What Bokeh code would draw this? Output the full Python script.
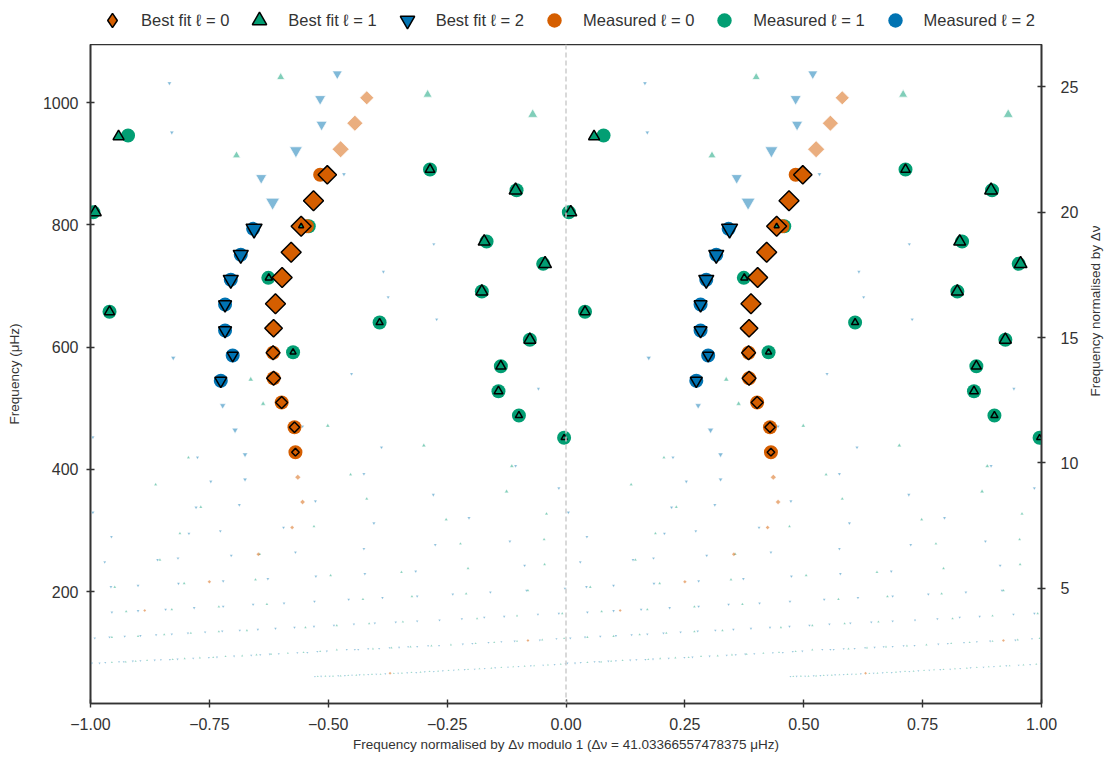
import numpy as np
from bokeh.plotting import figure
from bokeh.layouts import column, row
from bokeh.models import (ColumnDataSource, Range1d, LinearAxis, FixedTicker, Span, Label,
                          Legend, LegendItem, CustomJSTickFormatter)
from bokeh.embed import file_html
from bokeh.resources import INLINE

DNU = 41.03366557478375  # large frequency separation (muHz)

# ---- measured modes: position modulo dnu (in units of dnu) and frequency (muHz)
l0_obs_x = [0.483, 0.469, 0.455, 0.422, 0.403, 0.389, 0.385, 0.384, 0.385, 0.402, 0.429, 0.431]
l0_obs_nu = [882.0, 839.5, 797.9, 755.3, 713.9, 670.9, 630.9, 590.7, 549.1, 509.3, 468.9, 428.0]

l1_obs_x = [0.079, 0.714, 0.896, 0.006, 0.833, 0.952, 0.823, 0.374, 0.459, 0.040, 0.608,
            0.924, 0.426, 0.863, 0.858, 0.901, 0.996]
l1_obs_nu = [946.3, 890.7, 856.8, 820.8, 772.8, 736.3, 691.0, 713.4, 797.9, 657.8, 640.3,
             612.0, 591.7, 568.8, 527.8, 488.1, 451.6]

l2_obs_x = [0.342, 0.316, 0.295, 0.283, 0.283, 0.299, 0.274]
l2_obs_nu = [793.6, 751.1, 710.2, 669.7, 627.2, 586.3, 544.9]

# ---- best-fit model modes matched to an observed mode (relative amplitude)
l0_fit_x = [0.498, 0.469, 0.443, 0.422, 0.403, 0.389, 0.385, 0.384, 0.385, 0.402, 0.429, 0.431]
l0_fit_nu = [882.0, 839.5, 797.9, 755.3, 713.9, 670.9, 630.9, 590.7, 549.1, 509.3, 468.9, 428.0]
l0_fit_amp = [0.92, 1.0, 1.0, 1.0, 1.0, 1.0, 0.88, 0.70, 0.70, 0.60, 0.52, 0.38]

l1_fit_x = [0.059, 0.714, 0.894, 0.010, 0.828, 0.956, 0.823, 0.375, 0.443, 0.040, 0.608,
            0.924, 0.426, 0.863, 0.858, 0.901, 0.996]
l1_fit_nu = [944.7, 890.7, 856.8, 820.8, 772.8, 736.3, 691.0, 713.4, 797.9, 657.8, 640.3,
             612.0, 591.7, 568.8, 527.8, 488.1, 451.6]
l1_fit_amp = [0.69, 0.60, 0.80, 0.75, 0.75, 0.80, 0.75, 0.45, 0.32, 0.63, 0.45,
              0.75, 0.38, 0.63, 0.56, 0.45, 0.38]

l2_fit_x = [0.344, 0.316, 0.295, 0.283, 0.283, 0.299, 0.274]
l2_fit_nu = [793.6, 751.1, 710.2, 669.7, 627.2, 586.3, 544.9]
l2_fit_amp = [1.0, 0.94, 0.94, 0.81, 0.81, 0.69, 0.75]

# ---- best-fit model modes without an observed counterpart
l0_free_x = [0.581, 0.556, 0.526, 0.436, 0.446, 0.424, 0.353, 0.250, 0.114, 0.920, 0.630]
l0_free_nu = [1008.0, 966.5, 923.9, 387.1, 346.5, 304.8, 260.9, 215.9, 168.9, 119.8, 66.3]
l0_free_amp = [0.70, 0.80, 0.85, 0.28, 0.25, 0.20, 0.20, 0.18, 0.15, 0.15, 0.15]

l1_free_x = [0.400, 0.709, 0.930, 0.307, 0.337, 0.363, 0.499, 0.701, 0.206, 0.886, 0.547,
             0.137, 0.875, 0.581, 0.232, 0.748, 0.959, 0.188, 0.470, 0.778, 0.954,
             0.146, 0.356,
             0.051, 0.197, 0.347, 0.505, 0.654, 0.794, 0.955,
             0.075, 0.171, 0.270, 0.371, 0.573, 0.676, 0.790, 0.920,
             0.045, 0.100, 0.155, 0.211, 0.270, 0.329, 0.452, 0.518, 0.586, 0.657, 0.813,
             0.897, 0.992,
             0.045, 0.074, 0.095, 0.119, 0.173, 0.198, 0.230, 0.258, 0.284, 0.319, 0.349,
             0.380, 0.415, 0.448, 0.483, 0.518, 0.594, 0.633, 0.673, 0.717, 0.758, 0.810,
             0.849, 0.897, 0.950, 0.996,
             0.478, 0.494, 0.510, 0.526, 0.542, 0.559, 0.575, 0.592, 0.610, 0.638, 0.655,
             0.675, 0.694, 0.713, 0.731, 0.753, 0.774, 0.794, 0.818, 0.843, 0.864, 0.889,
             0.913, 0.933, 0.962, 0.989]
l1_free_nu = [1041.8, 1013.4, 980.7, 913.6, 547.0, 507.2, 471.2, 439.0, 419.3, 405.1, 391.5,
              375.1, 363.7, 351.7, 338.0, 317.8, 327.2, 294.9, 306.4, 278.1, 285.1,
              251.9, 261.1,
              207.3, 213.1, 219.2, 226.2, 231.6, 237.6, 244.2,
              167.3, 170.5, 175.0, 179.2, 187.4, 191.8, 196.2, 201.6,
              125.2, 126.8, 129.6, 131.8, 134.5, 136.2, 141.1, 144.4, 147.6, 150.4, 155.8,
              160.2, 164.0,
              83.8, 84.9, 85.9, 87.1, 88.7, 90.3, 91.5, 92.0, 93.6, 94.8, 96.4,
              97.4, 99.0, 100.2, 101.8, 104.6, 106.2, 107.9, 109.5, 111.1, 112.8, 114.9,
              116.5, 118.7, 121.0, 123.1,
              60.9, 61.4, 61.4, 62.0, 62.5, 63.0, 63.7, 64.2, 64.6, 65.8, 66.3,
              67.4, 67.9, 69.1, 69.6, 70.7, 71.9, 72.3, 73.5, 74.5, 75.6, 76.8,
              77.7, 78.4, 80.0, 81.0]
l1_free_amp = ([0.50, 0.56, 0.62, 0.50, 0.32, 0.30, 0.25, 0.25, 0.20, 0.25, 0.20,
                0.20, 0.25, 0.20, 0.20, 0.20, 0.20, 0.18, 0.18, 0.18, 0.18,
                0.18, 0.18]
               + [0.18] * 7 + [0.17] * 8 + [0.15] * 13 + [0.13] * 26 + [0.12] * 26)

l2_free_x = [0.166, 0.519, 0.483, 0.171, 0.486, 0.432, 0.359, 0.533, 0.383, 0.722, 0.616,
             0.626, 0.728, 0.174, 0.549, 0.942, 0.278, 0.446, 0.304, 0.005, 0.612, 0.225,
             0.325, 0.894, 0.575, 0.325, 0.253, 0.721, 0.985, 0.473, 0.313, 0.222, 0.005,
             0.796, 0.596, 0.044, 0.207, 0.273, 0.406, 0.575, 0.725, 0.882,
             0.030, 0.141, 0.184, 0.296, 0.431,
             0.043, 0.100, 0.185, 0.279, 0.373, 0.474, 0.577, 0.684, 0.913,
             0.045, 0.100, 0.158, 0.218, 0.279, 0.342, 0.407, 0.471, 0.543, 0.614, 0.687,
             0.762, 0.841, 0.917, 0.998,
             0.009, 0.040, 0.072, 0.105, 0.138, 0.171, 0.205, 0.241, 0.277, 0.314, 0.352,
             0.389, 0.429, 0.470, 0.512, 0.554, 0.598, 0.642, 0.687, 0.734, 0.781, 0.828,
             0.870, 0.941, 0.985,
             0.003, 0.019, 0.031, 0.060, 0.070, 0.089, 0.105, 0.135, 0.148, 0.167, 0.183,
             0.216, 0.249, 0.266, 0.302, 0.338, 0.357, 0.377, 0.396, 0.435, 0.456, 0.477,
             0.497, 0.539, 0.556, 0.563, 0.584, 0.607, 0.629, 0.649, 0.668, 0.687, 0.710,
             0.733, 0.783, 0.803, 0.837, 0.864, 0.892, 0.945, 0.980,
             0.472, 0.485, 0.503, 0.521, 0.535, 0.550, 0.566, 0.584, 0.601, 0.620, 0.647,
             0.666, 0.685, 0.703, 0.722, 0.741, 0.764, 0.787, 0.808, 0.829, 0.851, 0.878,
             0.900, 0.926, 0.952, 0.976, 0.999]
l2_free_nu = [1031.9, 1047.3, 1006.4, 951.3, 964.3, 921.8, 877.1, 883.0, 837.2, 768.4, 723.3,
              681.7, 645.2, 582.5, 556.3, 531.8, 504.4, 470.1, 464.3, 452.4, 436.0, 419.3,
              424.2, 405.7, 392.3, 383.3, 380.0, 358.3, 369.1, 347.8, 341.9, 337.8, 329.3,
              320.6, 311.8, 289.5, 294.9, 298.7, 304.8, 269.9, 276.4, 282.3,
              248.0, 251.9, 254.5, 258.9, 264.3,
              207.7, 209.8, 213.1, 216.9, 220.8, 225.0, 229.0, 233.2, 242.6,
              166.1, 168.4, 170.5, 173.3, 175.5, 178.7, 180.9, 183.6, 186.9, 189.7, 192.3,
              195.6, 198.9, 201.6, 204.9,
              123.6, 125.2, 126.4, 127.5, 129.1, 130.1, 131.8, 133.4, 135.0, 136.2, 137.8,
              139.4, 141.1, 142.7, 144.4, 146.5, 148.1, 149.8, 151.4, 153.0, 155.3, 157.5,
              159.1, 162.4, 164.0,
              82.7, 82.7, 83.8, 84.9, 84.9, 85.9, 86.6, 87.6, 88.2, 88.7, 89.2,
              90.8, 92.0, 92.5, 94.1, 95.7, 96.4, 97.4, 98.0, 99.7, 100.2, 101.8,
              102.3, 105.1, 105.1, 105.1, 106.2, 106.7, 107.9, 108.4, 109.5, 110.0, 111.1,
              111.6, 113.8, 114.9, 116.5, 117.7, 118.7, 120.3, 122.6,
              60.9, 61.1, 61.4, 62.0, 62.5, 63.0, 63.7, 64.2, 64.6, 65.3, 66.3,
              66.9, 67.4, 68.6, 69.1, 70.2, 71.2, 72.3, 72.8, 74.0, 75.1, 76.1,
              77.3, 78.4, 79.4, 80.5, 81.7]
l2_free_amp = ([0.25, 0.62, 0.69, 0.25, 0.69, 0.80, 0.69, 0.25, 0.87, 0.20, 0.20,
                0.20, 0.20, 0.30, 0.20, 0.20, 0.38, 0.20, 0.38, 0.20, 0.20, 0.20,
                0.32, 0.20, 0.20, 0.25, 0.20, 0.20, 0.20, 0.20, 0.20, 0.20, 0.20,
                0.20, 0.20, 0.18, 0.18, 0.18, 0.18, 0.18, 0.18, 0.18]
               + [0.18] * 5 + [0.18] * 9 + [0.17] * 15 + [0.15] * 25 + [0.13] * 41 + [0.12] * 27)

C0, C1, C2 = "#D55E00", "#029E73", "#0173B2"
TEXT = "#333333"
FONT = "Liberation Sans"

# marker scales (px) for unit amplitude
DIAMOND_PX = 20.0 / np.sqrt(2.0)   # side of the rotated square
TRIANGLE_PX = 16.0
OBS_PX = 14.0

PAGE_W, PAGE_H = 1112, 766
LEGEND_H = 44          # strip holding the legend above the plot
TITLE_W = 30           # strip holding the right-hand axis title
PLOT_W, PLOT_H = PAGE_W - TITLE_W, PAGE_H - LEGEND_H
BOTTOM = 63


def echelle_source(xs, nus, amps=None, scale=1.0):
    """Duplicate each mode at x - 1 and x so the ridges appear on both halves."""
    x = np.asarray(xs, dtype=float)
    nu = np.asarray(nus, dtype=float)
    data = dict(x=np.concatenate([x - 1.0, x]), nu=np.concatenate([nu, nu]))
    if amps is not None:
        size = np.asarray(amps, dtype=float) * scale
        size = np.concatenate([size, size])
        data["size"] = size
        data["lw"] = np.clip(size / 8.0, 0.3, 1.0)
    return ColumnDataSource(data)


ymin, ymax = 16.7, 1095.3
p = figure(width=PLOT_W, height=PLOT_H, x_range=Range1d(-1, 1), y_range=Range1d(ymin, ymax),
           output_backend="svg", toolbar_location=None,
           min_border_left=90, min_border_right=41, min_border_top=0, min_border_bottom=BOTTOM)
p.extra_y_ranges = {"norm": Range1d(ymin / DNU, ymax / DNU)}
p.xgrid.visible = False
p.ygrid.visible = False
p.outline_line_color = TEXT
p.outline_line_width = 1.6

p.add_layout(Span(location=0, dimension="height", line_color="#cccccc",
                  line_dash="5 3", line_width=1.5))

# unmatched model modes, drawn faint
faint = dict(fill_alpha=0.5, line_color="white", line_alpha=0.7)
src = echelle_source(l2_free_x, l2_free_nu, l2_free_amp, TRIANGLE_PX)
p.scatter("x", "nu", source=src, marker="inverted_triangle", size="size",
          fill_color=C2, line_width="lw", **faint)
src = echelle_source(l1_free_x, l1_free_nu, l1_free_amp, TRIANGLE_PX)
p.scatter("x", "nu", source=src, marker="triangle", size="size",
          fill_color=C1, line_width="lw", **faint)
src = echelle_source(l0_free_x, l0_free_nu, l0_free_amp, DIAMOND_PX)
p.scatter("x", "nu", source=src, marker="square", angle=np.pi / 4, size="size",
          fill_color=C0, line_width="lw", **faint)

# observed modes
p.scatter("x", "nu", source=echelle_source(l1_obs_x, l1_obs_nu), marker="circle",
          size=OBS_PX, fill_color=C1, line_color=None)
p.scatter("x", "nu", source=echelle_source(l0_obs_x, l0_obs_nu), marker="circle",
          size=OBS_PX, fill_color=C0, line_color=None)
p.scatter("x", "nu", source=echelle_source(l2_obs_x, l2_obs_nu), marker="circle",
          size=OBS_PX, fill_color=C2, line_color=None)

# matched model modes
edge = dict(line_color="black", line_width=1.5)
p.scatter("x", "nu", source=echelle_source(l0_fit_x, l0_fit_nu, l0_fit_amp, DIAMOND_PX),
          marker="square", angle=np.pi / 4, size="size", fill_color=C0, **edge)
p.scatter("x", "nu", source=echelle_source(l1_fit_x, l1_fit_nu, l1_fit_amp, TRIANGLE_PX),
          marker="triangle", size="size", fill_color=C1, **edge)
p.scatter("x", "nu", source=echelle_source(l2_fit_x, l2_fit_nu, l2_fit_amp, TRIANGLE_PX),
          marker="inverted_triangle", size="size", fill_color=C2, **edge)


def style_axis(ax):
    ax.axis_line_color = TEXT
    ax.axis_line_width = 1.6
    ax.major_tick_line_color = TEXT
    ax.major_tick_line_width = 1.4
    ax.major_tick_in = 4
    ax.major_tick_out = 4
    ax.minor_tick_line_color = None
    ax.major_label_text_font = FONT
    ax.major_label_text_font_size = "16px"
    ax.major_label_text_color = TEXT
    ax.axis_label_text_font = FONT
    ax.axis_label_text_font_size = "13.5px"
    ax.axis_label_text_font_style = "normal"
    ax.axis_label_text_color = TEXT


xax = p.xaxis[0]
xax.ticker = FixedTicker(ticks=[-1, -0.75, -0.5, -0.25, 0, 0.25, 0.5, 0.75, 1])
xax.formatter = CustomJSTickFormatter(
    code="return (tick < 0 ? '\u2212' : '') + Math.abs(tick).toFixed(2);")
xax.axis_label = "Frequency normalised by \u0394\u03bd modulo 1 (\u0394\u03bd = 41.03366557478375 \u03bcHz)"
xax.major_label_standoff = 10
xax.axis_label_standoff = 4
style_axis(xax)

yax = p.yaxis[0]
yax.ticker = FixedTicker(ticks=[200, 400, 600, 800, 1000])
yax.axis_label = "Frequency (\u03bcHz)"
yax.major_label_standoff = 8
yax.axis_label_standoff = 18
style_axis(yax)

rax = LinearAxis(y_range_name="norm", ticker=FixedTicker(ticks=[5, 10, 15, 20, 25]))
rax.major_label_standoff = 15
style_axis(rax)
p.add_layout(rax, "right")


def strip(width, height):
    s = figure(width=width, height=height, x_range=Range1d(0, 1), y_range=Range1d(0, 1),
               x_axis_type=None, y_axis_type=None, output_backend="svg",
               toolbar_location=None, min_border=0)
    s.outline_line_color = None
    s.xgrid.visible = False
    s.ygrid.visible = False
    return s


# right-hand axis title, reading bottom to top, centred on the plot frame
title_strip = strip(TITLE_W, PLOT_H)
frame_h = PLOT_H - BOTTOM
title_strip.add_layout(Label(x=13, y=BOTTOM + frame_h / 2, x_units="screen", y_units="screen",
                             text="Frequency normalised by \u0394\u03bd", angle=np.pi / 2,
                             text_align="center", text_baseline="middle", text_font=FONT,
                             text_font_size="13.5px", text_color=TEXT))

# legend strip: keys styled like the plotted series
legend_strip = strip(PAGE_W, LEGEND_H)
nan = [np.nan]
k_fit0 = legend_strip.scatter(nan, nan, marker="diamond", fill_color=C0, **edge)
k_fit1 = legend_strip.scatter(nan, nan, marker="triangle", fill_color=C1, **edge)
k_fit2 = legend_strip.scatter(nan, nan, marker="inverted_triangle", fill_color=C2, **edge)
k_obs0 = legend_strip.scatter(nan, nan, marker="circle", fill_color=C0, line_color=None)
k_obs1 = legend_strip.scatter(nan, nan, marker="circle", fill_color=C1, line_color=None)
k_obs2 = legend_strip.scatter(nan, nan, marker="circle", fill_color=C2, line_color=None)

legend = Legend(items=[
    LegendItem(label="Best fit \u2113 = 0", renderers=[k_fit0]),
    LegendItem(label="Best fit \u2113 = 1", renderers=[k_fit1]),
    LegendItem(label="Best fit \u2113 = 2", renderers=[k_fit2]),
    LegendItem(label="Measured \u2113 = 0", renderers=[k_obs0]),
    LegendItem(label="Measured \u2113 = 1", renderers=[k_obs1]),
    LegendItem(label="Measured \u2113 = 2", renderers=[k_obs2]),
], orientation="horizontal", location=(94, 6))
legend.label_text_font = FONT
legend.label_text_font_size = "16.5px"
legend.label_text_color = TEXT
legend.glyph_width = 36
legend.glyph_height = 36
legend.label_standoff = 11
legend.spacing = 12
legend.padding = 0
legend.margin = 0
legend.border_line_color = None
legend.background_fill_alpha = 0
legend_strip.add_layout(legend)

layout = column(legend_strip, row(p, title_strip, spacing=0), spacing=0)
open("out.html", "w").write(file_html(layout, INLINE))
